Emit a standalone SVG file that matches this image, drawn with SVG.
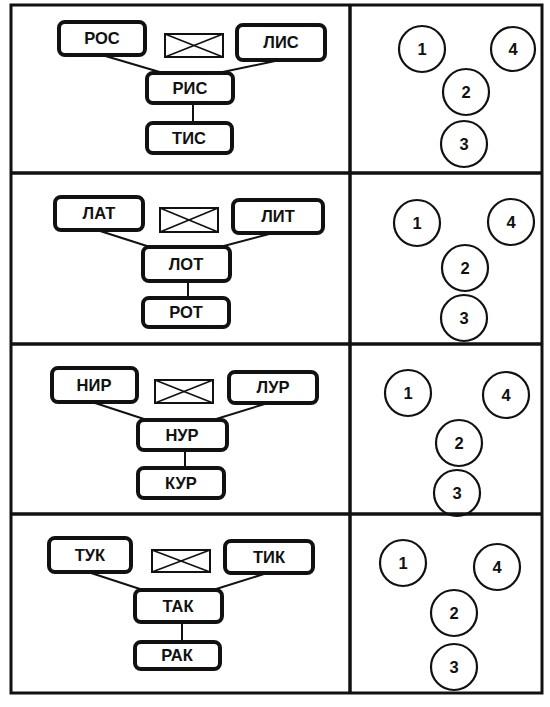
<svg xmlns="http://www.w3.org/2000/svg" width="550" height="707" viewBox="0 0 550 707">
<style>
.frame{fill:none;stroke:#111;stroke-width:3}
.div{stroke:#111;stroke-width:3.5}
.box{fill:#fff;stroke:#111;stroke-width:4}
.cross{fill:#fff;stroke:#111;stroke-width:2}
.xl{stroke:#111;stroke-width:1.6}
.conn{stroke:#111;stroke-width:2;fill:none}
.circ{fill:#fff;stroke:#111;stroke-width:2.2}
text{font-family:"Liberation Sans","DejaVu Sans",sans-serif;font-weight:bold;font-size:16.5px;fill:#111;text-anchor:middle}
</style>
<rect width="550" height="707" fill="#fff"/>
<g id="connectors">
<line class="conn" x1="102" y1="55" x2="163" y2="73"/>
<line class="conn" x1="280" y1="60" x2="218" y2="73"/>
<line class="conn" x1="193" y1="103" x2="193" y2="123"/>
<line class="conn" x1="97" y1="230" x2="150" y2="247"/>
<line class="conn" x1="273" y1="233" x2="220" y2="247"/>
<line class="conn" x1="188" y1="281" x2="188" y2="298"/>
<line class="conn" x1="92" y1="402" x2="147" y2="420"/>
<line class="conn" x1="268" y1="403" x2="213" y2="420"/>
<line class="conn" x1="185" y1="450" x2="185" y2="468"/>
<line class="conn" x1="88" y1="572" x2="143" y2="590"/>
<line class="conn" x1="267" y1="573" x2="213" y2="590"/>
<line class="conn" x1="182" y1="622" x2="182" y2="642"/>
</g>
<!-- Panel 1 -->
<g id="ros"><rect class="box" x="59" y="22" width="86" height="33" rx="6"/><text x="102" y="44">РОС</text></g>
<g id="cross1"><rect class="cross" x="165" y="34" width="58" height="23"/><line class="xl" x1="165" y1="34" x2="223" y2="57"/><line class="xl" x1="223" y1="34" x2="165" y2="57"/></g>
<g id="lis"><rect class="box" x="237" y="25" width="88" height="35" rx="6"/><text x="281" y="48">ЛИС</text></g>
<g id="ris"><rect class="box" x="147" y="73" width="86" height="30" rx="6"/><text x="190" y="94">РИС</text></g>
<g id="tis"><rect class="box" x="147" y="123" width="85" height="30" rx="6"/><text x="189" y="144">ТИС</text></g>
<!-- Panel 2 -->
<g id="lat"><rect class="box" x="55" y="197" width="88" height="33" rx="6"/><text x="99" y="219">ЛАТ</text></g>
<g id="cross2"><rect class="cross" x="160" y="208" width="58" height="24"/><line class="xl" x1="160" y1="208" x2="218" y2="232"/><line class="xl" x1="218" y1="208" x2="160" y2="232"/></g>
<g id="lit"><rect class="box" x="233" y="200" width="90" height="33" rx="6"/><text x="278" y="222">ЛИТ</text></g>
<g id="lot"><rect class="box" x="143" y="247" width="87" height="34" rx="6"/><text x="186" y="270">ЛОТ</text></g>
<g id="rot"><rect class="box" x="143" y="298" width="86" height="29" rx="6"/><text x="186" y="318">РОТ</text></g>
<!-- Panel 3 -->
<g id="nir"><rect class="box" x="52" y="368" width="85" height="34" rx="6"/><text x="94" y="391">НИР</text></g>
<g id="cross3"><rect class="cross" x="155" y="380" width="58" height="23"/><line class="xl" x1="155" y1="380" x2="213" y2="403"/><line class="xl" x1="213" y1="380" x2="155" y2="403"/></g>
<g id="lur"><rect class="box" x="229" y="372" width="88" height="31" rx="6"/><text x="273" y="393">ЛУР</text></g>
<g id="nur"><rect class="box" x="138" y="420" width="89" height="30" rx="6"/><text x="182" y="441">НУР</text></g>
<g id="kur"><rect class="box" x="138" y="468" width="86" height="30" rx="6"/><text x="181" y="489">КУР</text></g>
<!-- Panel 4 -->
<g id="tuk"><rect class="box" x="49" y="538" width="82" height="34" rx="6"/><text x="90" y="561">ТУК</text></g>
<g id="cross4"><rect class="cross" x="152" y="550" width="58" height="22"/><line class="xl" x1="152" y1="550" x2="210" y2="572"/><line class="xl" x1="210" y1="550" x2="152" y2="572"/></g>
<g id="tik"><rect class="box" x="225" y="541" width="88" height="32" rx="6"/><text x="269" y="563">ТИК</text></g>
<g id="tak"><rect class="box" x="135" y="590" width="87" height="32" rx="6"/><text x="178" y="612">ТАК</text></g>
<g id="rak"><rect class="box" x="135" y="642" width="85" height="27" rx="6"/><text x="177" y="661">РАК</text></g>
<!-- Circles panel 1 -->
<g id="c1a"><circle class="circ" cx="422" cy="49" r="23"/><text x="422" y="55">1</text></g>
<g id="c4a"><circle class="circ" cx="513" cy="49" r="22"/><text x="513" y="55">4</text></g>
<g id="c2a"><circle class="circ" cx="466" cy="92" r="23"/><text x="466" y="98">2</text></g>
<g id="c3a"><circle class="circ" cx="464" cy="144" r="23"/><text x="464" y="150">3</text></g>
<!-- Circles panel 2 -->
<g id="c1b"><circle class="circ" cx="417" cy="223" r="23"/><text x="417" y="229">1</text></g>
<g id="c4b"><circle class="circ" cx="511" cy="222" r="23"/><text x="511" y="228">4</text></g>
<g id="c2b"><circle class="circ" cx="465" cy="268" r="23"/><text x="465" y="274">2</text></g>
<g id="c3b"><circle class="circ" cx="464" cy="318" r="23"/><text x="464" y="324">3</text></g>
<!-- Circles panel 3 -->
<g id="c1c"><circle class="circ" cx="408" cy="393" r="23"/><text x="408" y="399">1</text></g>
<g id="c4c"><circle class="circ" cx="506" cy="395" r="23"/><text x="506" y="401">4</text></g>
<g id="c2c"><circle class="circ" cx="459" cy="443" r="23"/><text x="459" y="449">2</text></g>
<g id="c3c"><circle class="circ" cx="457" cy="493" r="23"/><text x="457" y="499">3</text></g>
<!-- Circles panel 4 -->
<g id="c1d"><circle class="circ" cx="403" cy="563" r="23"/><text x="403" y="569">1</text></g>
<g id="c4d"><circle class="circ" cx="497" cy="567" r="23"/><text x="497" y="573">4</text></g>
<g id="c2d"><circle class="circ" cx="454" cy="613" r="23"/><text x="454" y="619">2</text></g>
<g id="c3d"><circle class="circ" cx="454" cy="667" r="23"/><text x="454" y="673">3</text></g>
<g id="frame">
<rect class="frame" x="11" y="5" width="531" height="688"/>
<line class="div" x1="350" y1="5" x2="350" y2="693"/>
<line class="div" x1="11" y1="173" x2="542" y2="173"/>
<line class="div" x1="11" y1="344" x2="542" y2="344"/>
<line class="div" x1="11" y1="514" x2="542" y2="514"/>
</g>
</svg>
